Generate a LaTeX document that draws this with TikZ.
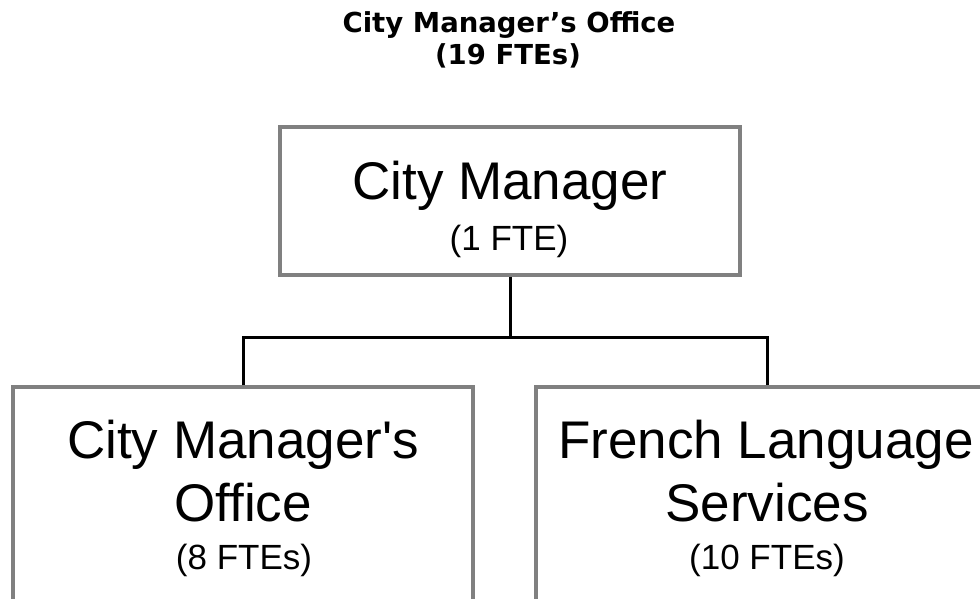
\documentclass[tikz,border=0pt]{standalone}
\usepackage{fontspec}
\setmainfont{Liberation Sans}[Ligatures=TeXOff]
\newfontfamily\titlefont{DejaVu Sans}
\definecolor{boxgray}{HTML}{808080}
\tikzset{
  orgbox/.style={draw=boxgray, line width=3.5pt, fill=white, inner sep=0pt},
  conn/.style={draw=black, line width=3pt},
  big/.style={anchor=base, inner sep=0pt, font=\fontsize{53}{53}\selectfont},
  small/.style={anchor=base, inner sep=0pt, font=\fontsize{35}{35}\selectfont},
  ttl/.style={anchor=base, inner sep=0pt, font=\titlefont\bfseries\fontsize{27.5}{27.5}\selectfont}
}
\begin{document}
\begin{tikzpicture}[x=1pt,y=-1pt]
\useasboundingbox (0,0) rectangle (980,598);
\clip (0,0) rectangle (980,598);
% title
\node[ttl] (t1) at (509,32) {City Manager’s Office};
\node[ttl] (t2) at (508,64) {(19 FTEs)};
% boxes
\node[orgbox, minimum width=460pt, minimum height=148pt] (cm) at (510,201) {};
\node[orgbox, minimum width=460pt, minimum height=273pt] (cmo) at (243,523.5) {};
\node[orgbox, minimum width=462pt, minimum height=273pt] (fls) at (767,523.5) {};
% connectors
\coordinate (j) at (510,337);
\draw[conn] (cm.south) -- (j);
\draw[conn] (cmo.north) |- (j) -| (fls.north);
% texts
\node[big] (cm1) at (510,199) {City Manager};
\node[small] (cm2) at (509,250) {(1 FTE)};
\node[big] (cmo1) at (243,458) {City Manager's};
\node[big] (cmo2) at (243,521) {Office};
\node[small] (cmo3) at (244,569) {(8 FTEs)};
\node[big] (fls1) at (766,458) {French Language};
\node[big] (fls2) at (767,521) {Services};
\node[small] (fls3) at (767,569) {(10 FTEs)};
\end{tikzpicture}
\end{document}
